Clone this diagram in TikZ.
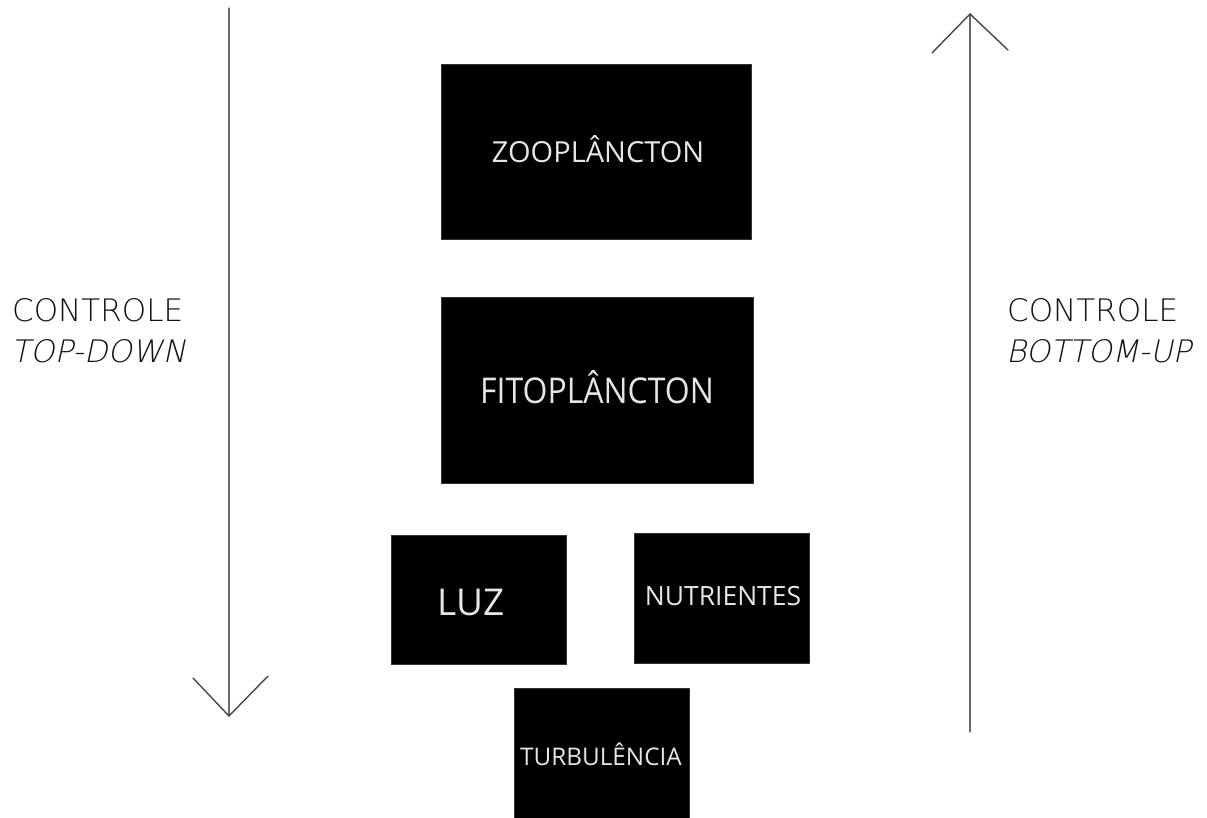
\documentclass[tikz,border=0pt]{standalone}
\usepackage{fontspec}
\setmainfont{Open Sans}
\newfontfamily\sidefont[ItalicFont={DejaVu Sans ExtraLight},ItalicFeatures={FakeSlant=0.21}]{DejaVu Sans ExtraLight}
\newfontfamily\boxfont{Open Sans}
\newfontfamily\narrowfont[FakeStretch=0.9]{Open Sans}
\definecolor{axisgray}{HTML}{6A6A6A}
\definecolor{headgray}{HTML}{474747}
\definecolor{sidetext}{HTML}{111111}
\definecolor{boxtext}{HTML}{E6E6E6}
\tikzset{
  level/.style={fill=black, draw=black!80, line width=0.6pt},
  boxlabel/.style={anchor=base, inner sep=0pt, text=boxtext},
  sidelabel/.style={anchor=base west, inner sep=0pt, text=sidetext, font=\sidefont\fontsize{31}{36}\selectfont},
  axis/.style={draw=axisgray, line width=1.1pt, line cap=round},
  barb/.style={draw=headgray, line width=1.4pt, line cap=round, line join=miter}
}
\begin{document}
\begin{tikzpicture}[x=1pt,y=-1pt]
  \useasboundingbox (0,0) rectangle (1207,817);
  \begin{scope}
    \clip (0,0) rectangle (1207,817);
    % trophic levels
    \path[level] (441,64) rectangle (751,239) coordinate (zooBR);
    \path[level] (441,297) rectangle (753,483) coordinate (fitoBR);
    \path[level] (391,535) rectangle (566,664) coordinate (luzBR);
    \path[level] (634,533) rectangle (809,663) coordinate (nutBR);
    \path[level] (514,688) rectangle (689,830) coordinate (turbBR);
  \end{scope}
  \node[boxlabel, font=\boxfont\fontsize{29}{34}\selectfont] (zoo) at (598,162) {ZOOPLÂNCTON};
  \node[boxlabel, font=\narrowfont\fontsize{35.5}{40}\selectfont] (fito) at (597,403) {FITOPLÂNCTON};
  \node[boxlabel, font=\boxfont\fontsize{37}{42}\selectfont] (luz) at (471,615) {LUZ};
  \node[boxlabel, font=\boxfont\fontsize{26.5}{30}\selectfont] (nut) at (723,605) {NUTRIENTES};
  \node[boxlabel, font=\boxfont\fontsize{24.3}{29}\selectfont] (turb) at (601,765) {TURBULÊNCIA};

  % top-down control axis
  \coordinate (tdTop) at (229,8);
  \coordinate (tdTip) at (229,716);
  \coordinate (tdL) at (193,678);
  \coordinate (tdR) at (268,676);
  \draw[axis] (tdTop) -- (tdTip);
  \draw[barb] (tdL) -- (tdTip) -- (tdR);
  \node[sidelabel] (tdA) at (12,321) {CONTROLE};
  \node[sidelabel] (tdB) at (11,362) {\itshape TOP-DOWN};

  % bottom-up control axis
  \coordinate (buBot) at (970,732);
  \coordinate (buTip) at (970,14);
  \coordinate (buL) at (932,53);
  \coordinate (buR) at (1008,50);
  \draw[axis] (buBot) -- (buTip);
  \draw[barb] (buL) -- (buTip) -- (buR);
  \node[sidelabel] (buA) at (1007,321) {CONTROLE};
  \node[sidelabel] (buB) at (1006,362) {\itshape BOTTOM-UP};
\end{tikzpicture}
\end{document}
